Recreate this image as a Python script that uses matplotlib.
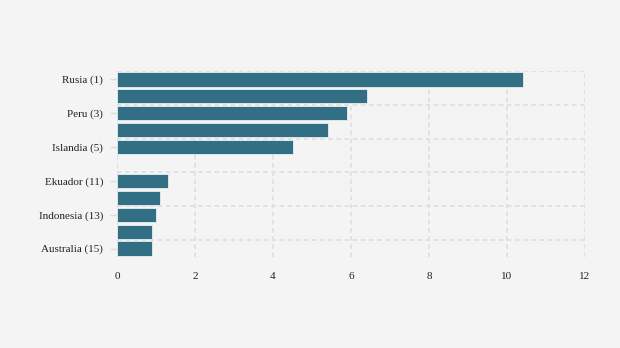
import matplotlib.pyplot as plt
import numpy as np

labels = ['Rusia (1)', '', 'Peru (3)', '', 'Islandia (5)', '',
          'Ekuador (11)', '', 'Indonesia (13)', '', 'Australia (15)']
values = [10.41, 6.41, 5.90, 5.41, 4.51, np.nan, 1.32, 1.11, 1.00, 0.91, 0.91]

plt.rcParams['font.family'] = ['Liberation Serif', 'DejaVu Serif']

fig = plt.figure(figsize=(6.2, 3.48), dpi=100, facecolor='#f4f4f4')
ax = fig.add_axes([117/620, 1 - 257/348, 468/620, 186/348])
ax.set_facecolor('#f4f4f4')

y = np.arange(len(labels))
ax.barh(y, values, height=0.84, color='#336f84', edgecolor='#e6eef0', linewidth=0.6, zorder=3)

ax.set_xlim(0, 12)
ax.set_ylim(len(labels) - 0.5, -0.5)
ax.set_xticks(np.arange(0, 13, 2))
shown = [i for i in y if labels[i]]
ax.set_yticks(shown)
ax.set_yticklabels([labels[i] for i in shown])
ax.set_yticks([i - 0.5 for i in shown], minor=True)

dash = (0, (2.5, 2))
ax.grid(axis='x', color='#e0e0e0', linestyle=dash, linewidth=1.3, zorder=0)
ax.grid(axis='y', which='minor', color='#e0e0e0', linestyle=dash, linewidth=1.3, zorder=0)
ax.tick_params(axis='y', which='minor', length=0)
ax.tick_params(axis='y', which='major', length=5, color='#dcdcdc', width=1, labelsize=8, labelcolor='#222', pad=5)
ax.tick_params(axis='x', length=0, labelsize=8, labelcolor='#222', pad=11)

for s in ax.spines.values():
    s.set_visible(False)
ax.axvline(0, color='#d4d4d4', linestyle=dash, linewidth=1.3, zorder=1)

fig.savefig('out.png', dpi=100, facecolor='#f4f4f4')
